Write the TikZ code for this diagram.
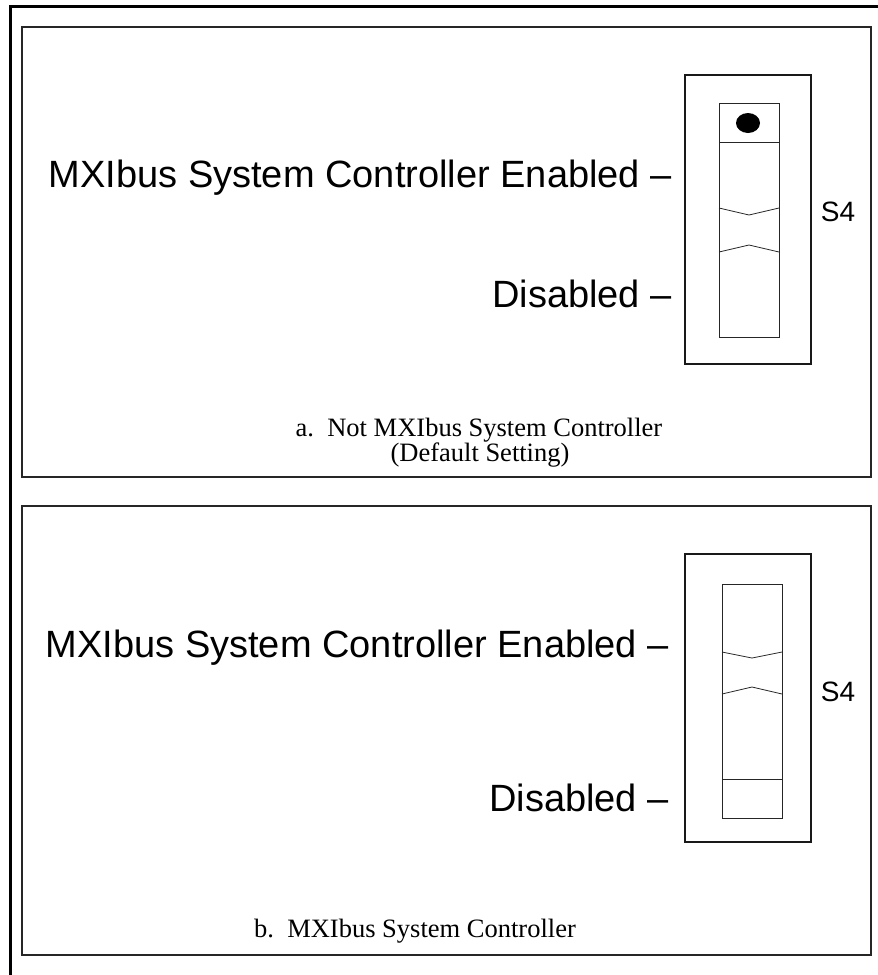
\documentclass[tikz,border=0pt]{standalone}
\usepackage{fontspec}
\setmainfont{Liberation Serif}
\newfontfamily\helv{Liberation Sans}
\usetikzlibrary{positioning}
\tikzstyle{frame} = [draw = black, line width = 3pt]
\tikzstyle{panel} = [draw = black!85, line width = 2pt]
\tikzstyle{switchbox} = [draw = black!90, line width = 2.2pt]
\tikzstyle{slot} = [draw = black!85, line width = 0.8pt]
\tikzstyle{setting} = [anchor = base east, inner sep = 0pt, font = \helv\fontsize{38}{44}\selectfont]
\tikzstyle{swname} = [inner sep = 0pt, font = \helv\fontsize{28}{32}\selectfont]
\tikzstyle{captiontext} = [anchor = base, inner sep = 0pt, font = \fontsize{26.5}{28}\selectfont]

\begin{document}
\begin{tikzpicture}[x = 1pt, y = -1pt]
\useasboundingbox (0,0) rectangle (878,975);

\draw [frame] (878,6) -- (10,6) -- (10,975);

% a. default setting
\draw [panel] (22,27) rectangle (871,477);
\draw [switchbox] (685,75) rectangle (811,364);
\draw [slot] (719,103) rectangle (779,337);
\draw [slot] (719,142) -- (779,142);
\draw [slot] (719,208) -- (749,215) -- (779,208);
\draw [slot] (719,252) -- (749,245) -- (779,252);
\fill (748,123) ellipse [x radius = 12pt, y radius = 10pt];
\node (enableda) [setting] at (672,187) {MXIbus System Controller Enabled –};
\node (disableda) [setting] at (672,307) {Disabled –};
\node (sfoura) [swname] at (838,212) {S4};
\node (capa) [captiontext] at (479,436) {a.\ \ Not MXIbus System Controller};
\node (capnotea) [captiontext] at (480,461) {(Default Setting)};

% b. system controller
\draw [panel] (22,506) rectangle (871,955);
\draw [switchbox] (685,554) rectangle (811,842);
\draw [slot] (722,584) rectangle (782,818);
\draw [slot] (722,779) -- (782,779);
\draw [slot] (722,652) -- (752,658) -- (782,652);
\draw [slot] (722,694) -- (752,687) -- (782,694);
\node (enabledb) [setting] at (669,657) {MXIbus System Controller Enabled –};
\node (disabledb) [setting] at (669,811) {Disabled –};
\node (sfourb) [swname] at (838,692) {S4};
\node (capb) [captiontext] at (415,937) {b.\ \ MXIbus System Controller};

\end{tikzpicture}
\end{document}
